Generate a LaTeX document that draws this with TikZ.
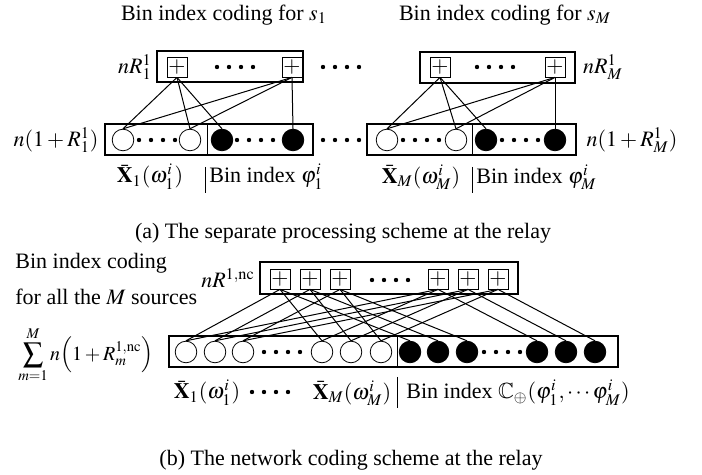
\documentclass[tikz,border=0pt]{standalone}
\usepackage{mathptmx}
\usepackage{amssymb}
\usepackage[no-math]{fontspec}
\setmainfont{Liberation Serif}
\usepackage{tikz}
\usetikzlibrary{positioning}

% four small dots in a row, starting at (#1,#2)
\newcommand{\dotrun}[2]{\foreach \dd in {0,1,2,3} \fill (#1+12*\dd,#2) circle (1.1pt);}

\begin{document}
\begin{tikzpicture}[x=0.5pt, y=-0.5pt,
  font=\fontsize{11pt}{13pt}\selectfont,
  grp/.style={draw, line width=0.55pt, inner sep=0pt},
  xor/.style={draw, minimum size=10pt, inner sep=0pt, font=\fontsize{11pt}{12pt}\selectfont},
  bit/.style={draw, circle, minimum size=10.8pt, inner sep=0pt},
  par/.style={bit, fill=black},
  lab/.style={inner sep=1pt},
  wire/.style={line width=0.5pt}
]
\useasboundingbox (0,0) rectangle (702,475);

% ---- (a) separate processing ----
\node[lab] (hdA) at (224,15) {Bin index coding for $s_1$};
\node[lab] (hdM) at (505,15) {Bin index coding for $s_M$};

\node[grp, minimum width=73pt, minimum height=15.5pt] (topA) at (230,66.5) {};
\node[grp, minimum width=77.5pt, minimum height=15.5pt] (topM) at (497.5,67.5) {};
\node[xor] (pAa) at (177,67) {$+$};
\node[xor] (pAb) at (292,67) {$+$};
\node[xor] (pMa) at (440,67) {$+$};
\node[xor] (pMb) at (555,67) {$+$};
\node[lab] (rA) at (135,67) {$nR_1^1$};
\node[lab] (rM) at (603,67) {$nR_M^1$};
\dotrun{217}{67} \dotrun{323}{67} \dotrun{477}{67}

\node[grp, minimum width=104pt, minimum height=15.5pt] (botA) at (209,139.5) {};
\node[grp, minimum width=104.5pt, minimum height=15.5pt] (botM) at (471.5,139.5) {};
\draw (207,124) -- (207,155);
\draw (472,124) -- (472,155);
\node[bit] (wAa) at (123,140) {};
\node[bit] (wAb) at (190,140) {};
\node[par] (fAa) at (222,140) {};
\node[par] (fAb) at (293,140) {};
\node[bit] (wMa) at (387,140) {};
\node[bit] (wMb) at (456,140) {};
\node[par] (fMa) at (486,140) {};
\node[par] (fMb) at (555,140) {};
\dotrun{139}{140} \dotrun{237}{140} \dotrun{323}{140}
\dotrun{403}{140} \dotrun{502}{140}
\node[lab] (nA) at (56,140) {$n(1+R_1^1)$};
\node[lab] (nM) at (632,140) {$n(1+R_M^1)$};

\foreach \p/\c in {pAa/wAa, pAa/wAb, pAa/fAa, pAb/wAa, pAb/wAb, pAb/fAb,
                   pMa/wMa, pMa/wMb, pMa/fMa, pMb/wMa, pMb/wMb, pMb/fMb}
  \draw[wire] (\p.south) -- (\c.north);

\node[lab] (xA) at (150,177) {$\bar{\mathbf{X}}_1(\omega_1^i)$};
\draw (205,167) -- (205,193);
\node[lab, anchor=west] (bA) at (207,177) {Bin index $\varphi_1^i$};
\node[lab] (xM) at (421,177) {$\bar{\mathbf{X}}_M(\omega_M^i)$};
\draw (472,167) -- (472,193);
\node[lab, anchor=west] (bM) at (474,177) {Bin index $\varphi_M^i$};

\node[lab] (capA) at (343,233) {(a) The separate processing scheme at the relay};

% ---- (b) network coding ----
\node[lab, anchor=west] (hdB) at (13,263) {Bin index coding};
\node[lab, anchor=west] (hdB2) at (13,297) {for all the $M$ sources};
\node[lab] (rB) at (228,278) {$nR^{1,\mathrm{nc}}$};

\node[grp, minimum width=129pt, minimum height=16pt] (topB) at (389,278) {};
\foreach \x [count=\n] in {280,310,340,438,468,498}
  \node[xor] (pB\n) at (\x,279) {$+$};
\dotrun{372}{280}

\node[grp, minimum width=224.5pt, minimum height=15.5pt] (botB) at (393.5,351.5) {};
\draw (397,336) -- (397,367);
\foreach \x [count=\n] in {186,215,243,322,351,381}
  \node[bit] (wB\n) at (\x,352) {};
\foreach \x [count=\n] in {410,438,467,537,566,595}
  \node[par] (fB\n) at (\x,352) {};
\dotrun{264}{352} \dotrun{484}{352}

\foreach \k in {1,...,6} {
  \pgfmathtruncatemacro\wa{mod(\k-1,3)+1}
  \pgfmathtruncatemacro\wb{\wa+3}
  \draw[wire] (pB\k.south) -- (wB\wa.north);
  \draw[wire] (pB\k.south) -- (wB\wb.north);
  \draw[wire] (pB\k.south) -- (fB\k.north);
}

\node[lab, font=\fontsize{10pt}{12pt}\selectfont] (sumB) at (86,355)
  {$\displaystyle\sum_{m=1}^{M} n\Bigl(1+R_m^{1,\mathrm{nc}}\Bigr)$};

\node[lab] (xB1) at (207,393) {$\bar{\mathbf{X}}_1(\omega_1^i)$};
\dotrun{252}{392}
\node[lab] (xBM) at (352,393) {$\bar{\mathbf{X}}_M(\omega_M^i)$};
\draw (397,377) -- (397,408);
\node[lab, anchor=west] (bB) at (404,393) {Bin index $\mathbb{C}_{\oplus}(\varphi_1^i,\cdots\varphi_M^i)$};

\node[lab] (capB) at (351,460) {(b) The network coding scheme at the relay};
\end{tikzpicture}
\end{document}
